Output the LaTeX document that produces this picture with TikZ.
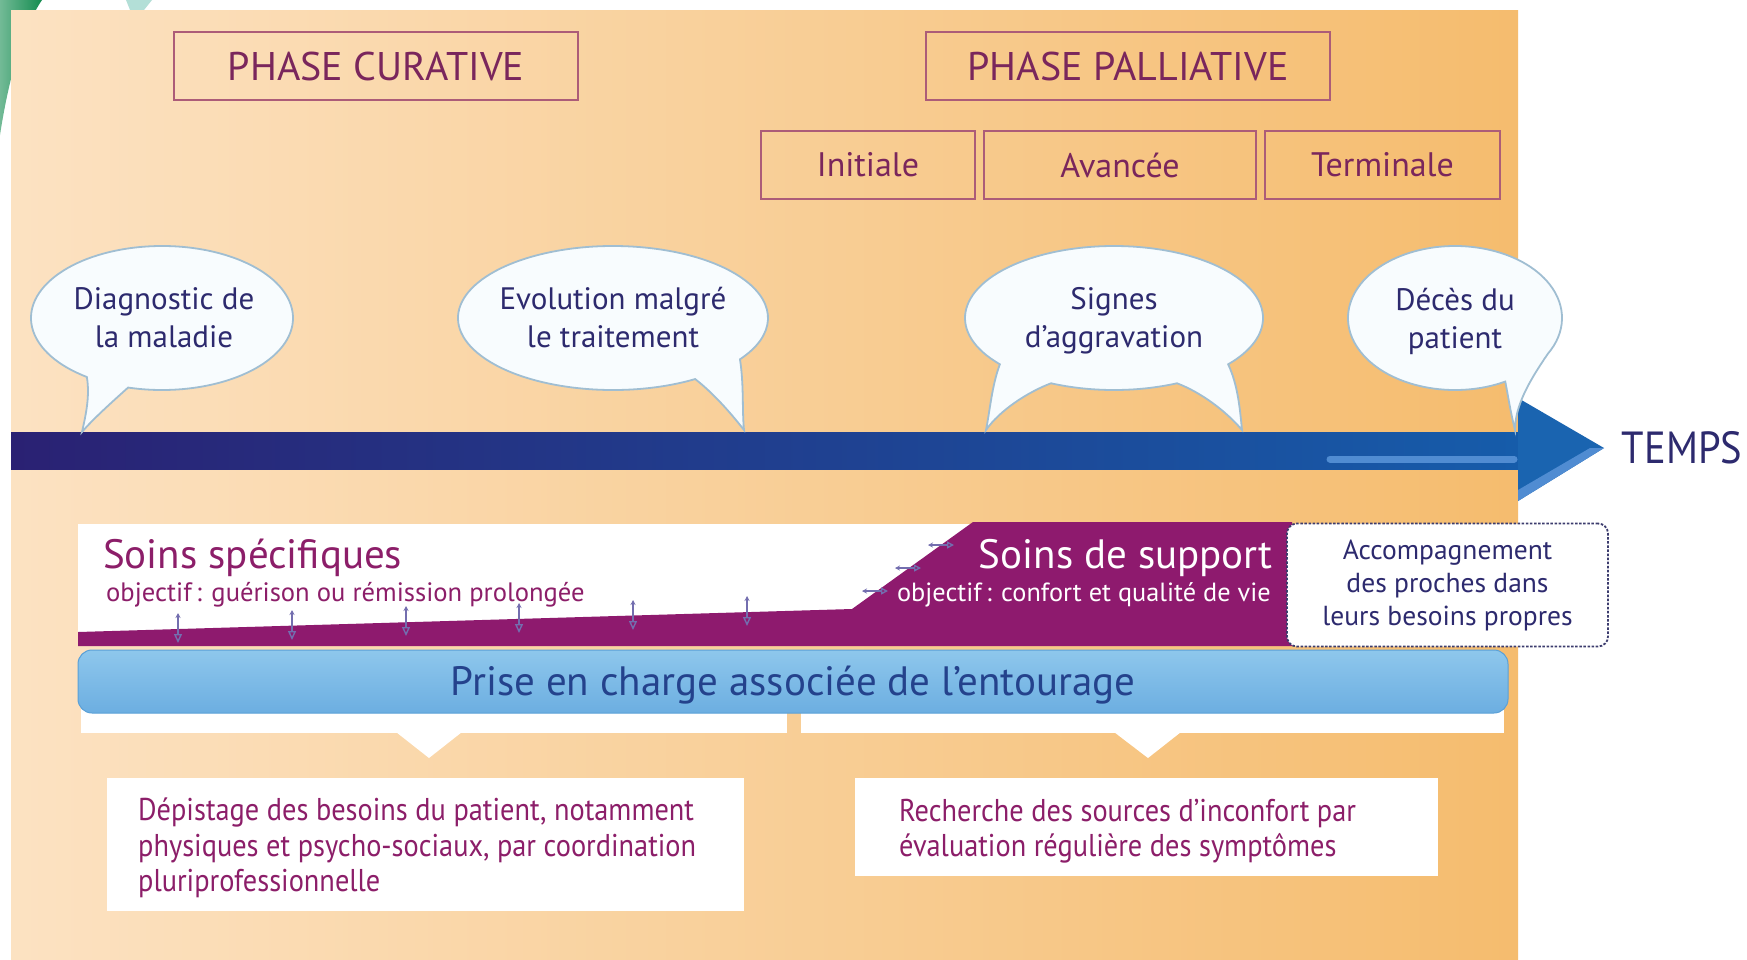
\documentclass[tikz,border=0pt]{standalone}
\usepackage{fontspec}
\setmainfont{PT Sans}
\newfontfamily\condfont[FakeStretch=0.9]{PT Sans}
\usetikzlibrary{arrows.meta,calc,shapes.geometric}
\definecolor{panelL}{RGB}{252,226,194}
\definecolor{panelM}{RGB}{249,211,158}
\definecolor{panelR}{RGB}{245,188,110}
\definecolor{hdrborder}{RGB}{172,92,120}
\definecolor{hdrtext}{RGB}{122,38,92}
\definecolor{navytext}{RGB}{45,42,110}
\definecolor{barL}{RGB}{42,33,115}
\definecolor{barR}{RGB}{22,92,170}
\definecolor{arrowblue}{RGB}{26,100,176}
\definecolor{arrowhl}{RGB}{80,140,210}
\definecolor{bubbleedge}{RGB}{160,190,210}
\definecolor{bubblefill}{RGB}{248,252,254}
\definecolor{soinspurple}{RGB}{142,26,110}
\definecolor{soinstext}{RGB}{140,30,105}
\definecolor{priseL}{RGB}{142,199,236}
\definecolor{priseD}{RGB}{108,174,225}
\definecolor{priseedge}{RGB}{90,160,215}
\definecolor{prisetext}{RGB}{36,66,140}
\definecolor{dashnavy}{RGB}{60,60,110}
\definecolor{smallarrow}{RGB}{115,110,175}
\definecolor{greenA}{RGB}{20,140,80}
\definecolor{tealA}{RGB}{160,215,205}
\tikzset{
  hdrbox/.style={draw=hdrborder, line width=2.4, text=hdrtext, minimum height=68, inner sep=0},
  bubble/.style={draw=bubbleedge, line width=1.8, fill=bubblefill},
  bubbletext/.style={text=navytext, align=center, font=\fontsize{31}{38}\selectfont, inner sep=0},
  smallv/.style={draw=smallarrow, line width=1.4, {Stealth[length=5pt,width=5pt]}-{Triangle[open,length=9pt,width=8pt]}},
  smallh/.style={draw=smallarrow, line width=1.4, {Stealth[length=5pt,width=5pt]}-{Triangle[open,length=7pt,width=7pt]}},
  whitebox/.style={fill=white, inner sep=0},
  boxtext/.style={text=soinstext, align=left, anchor=west, inner sep=0, font=\condfont\fontsize{31.5}{35.5}\selectfont},
}
\begin{document}
\begin{tikzpicture}[x=1pt,y=-1pt]
\useasboundingbox (0,0) rectangle (1747,959);
\fill[white] (0,0) rectangle (1747,959);
% decorative swoosh top-left
\shade[left color=greenA!60!white, right color=greenA] (0,0) -- (42,0) .. controls (25,25) and (10,70) .. (0,135) -- cycle;
\fill[tealA, opacity=.8] (126,0) -- (152,0) -- (144,10) -- (130,10) -- cycle;
% panel
\shade[left color=panelL, middle color=panelM, right color=panelR] (11,10) rectangle (1518,959);

% headers
\node[hdrbox, minimum width=404, font=\fontsize{40}{42}\selectfont] (curative) at (376,66) {PHASE CURATIVE};
\node[hdrbox, minimum width=404, font=\fontsize{40}{42}\selectfont] (palliative) at (1128,66) {PHASE PALLIATIVE};
\node[hdrbox, minimum width=214, font=\fontsize{34}{36}\selectfont] (initiale) at (868,165) {Initiale};
\node[hdrbox, minimum width=272, font=\fontsize{34}{36}\selectfont] (avancee) at (1120,165) {Avancée};
\node[hdrbox, minimum width=235, font=\fontsize{34}{36}\selectfont] (terminale) at (1382.5,165) {Terminale};

% timeline
\shade[left color=barL, right color=barR] (11,432) rectangle (1518,469);
\fill[arrowblue] (1518,398) -- (1604,448) -- (1518,501) -- cycle;
\fill[arrowhl] (1518,501) -- (1604,448) -- (1590,448) -- (1518,490) -- cycle;
\draw[arrowhl, line width=7, line cap=round] (1330,459) -- (1514,459);
\node[text=navytext, font=\condfont\fontsize{45}{48}\selectfont, inner sep=0] (temps) at (1682,448) {TEMPS};

% bubbles
\draw[bubble] ($(162,318)+(125:131 and 72)$) arc[start angle=125, end angle=465, x radius=131, y radius=72]
  .. controls (112,402) and (92,420) .. (82,432) .. controls (86,414) and (90,396) .. ($(162,318)+(125:131 and 72)$) -- cycle;
\node[bubbletext] (diag) at (164,318) {Diagnostic de\\la maladie};

\draw[bubble] ($(613,318)+(58:155 and 72)$) arc[start angle=58, end angle=395, x radius=155, y radius=72]
  .. controls (744,385) and (742,410) .. (744,430) .. controls (730,412) and (712,392) .. ($(613,318)+(58:155 and 72)$) -- cycle;
\node[bubbletext] (evol) at (613,318) {Evolution malgré\\le traitement};

\draw[bubble] ($(1114,318)+(140:149 and 72)$) arc[start angle=140, end angle=400, x radius=149, y radius=72]
  .. controls (1238,385) and (1240,410) .. (1242,430) .. controls (1225,410) and (1200,392) .. ($(1114,318)+(65:149 and 72)$)
  arc[start angle=65, end angle=115, x radius=149, y radius=72]
  .. controls (1028,392) and (1000,410) .. (986,430) .. controls (990,410) and (992,385) .. ($(1114,318)+(140:149 and 72)$) -- cycle;
\node[bubbletext] (signes) at (1114,321) {Signes\\d’aggravation};

\draw[bubble] ($(1455,318)+(62:107 and 72)$) arc[start angle=62, end angle=390, x radius=107, y radius=72]
  .. controls (1530,380) and (1515,405) .. (1515,430) .. controls (1510,410) and (1508,395) .. ($(1455,318)+(62:107 and 72)$) -- cycle;
\node[bubbletext] (deces) at (1455,321) {Décès du\\patient};

% soins band
\fill[white] (78,524) rectangle (975,646);
\fill[soinspurple] (78,632) -- (852,609) -- (973,522) -- (1292,522) -- (1292,646) -- (78,646) -- cycle;
\node[text=soinstext, anchor=west, inner sep=0, font=\fontsize{41}{43}\selectfont] (specif) at (103,558) {Soins spécifiques};
\node[text=soinstext, anchor=west, inner sep=0, font=\fontsize{26.6}{28}\selectfont] (specifobj) at (106,595) {objectif\,: guérison ou rémission prolongée};
\node[text=white, anchor=east, inner sep=0, font=\fontsize{41}{43}\selectfont] (support) at (1273,558) {Soins de support};
\node[text=white, anchor=east, inner sep=0, font=\fontsize{26.3}{28}\selectfont] (supportobj) at (1271,595) {objectif\,: confort et qualité de vie};
\foreach \xx/\yy in {178/629, 292/626, 406/622, 519/619, 633/616, 747/612}
  \draw[smallv] (\xx,\yy-16) -- (\xx,\yy+14);
\foreach \xx/\yy in {941/545, 908/568, 875/591}
  \draw[smallh] (\xx-13,\yy) -- (\xx+13,\yy);

% dashed box
\node[draw=dashnavy, dash pattern=on 2.5pt off 1.6pt, line width=1.8, rounded corners=10, fill=white,
      minimum width=321, minimum height=123, inner sep=0, text=navytext, align=center,
      font=\fontsize{27.5}{33}\selectfont] (accomp) at (1447.5,585)
      {Accompagnement\\des proches dans\\leurs besoins propres};

% white bands below
\fill[white] (81,700) rectangle (787,733);
\fill[white] (396,732) -- (462,732) -- (429,758) -- cycle;
\fill[white] (801,700) rectangle (1504,733);
\fill[white] (1114,732) -- (1181,732) -- (1148,758) -- cycle;

% prise en charge bar
\shadedraw[top color=priseL, bottom color=priseD, draw=priseedge, line width=1, rounded corners=14] (78,650) rectangle (1508,713);
\node[text=prisetext, inner sep=0, font=\fontsize{41}{43}\selectfont] (prise) at (793,685) {Prise en charge associée de l’entourage};

% bottom boxes
\node[whitebox, minimum width=637, minimum height=133] (box1) at (425.5,844.5) {};
\node[boxtext] (txt1) at (138,848) {Dépistage des besoins du patient, notamment\\physiques et psycho-sociaux, par coordination\\pluriprofessionnelle};
\node[whitebox, minimum width=583, minimum height=98] (box2) at (1146.5,827) {};
\node[boxtext] (txt2) at (899,831) {Recherche des sources d’inconfort par\\évaluation régulière des symptômes};
\end{tikzpicture}
\end{document}
